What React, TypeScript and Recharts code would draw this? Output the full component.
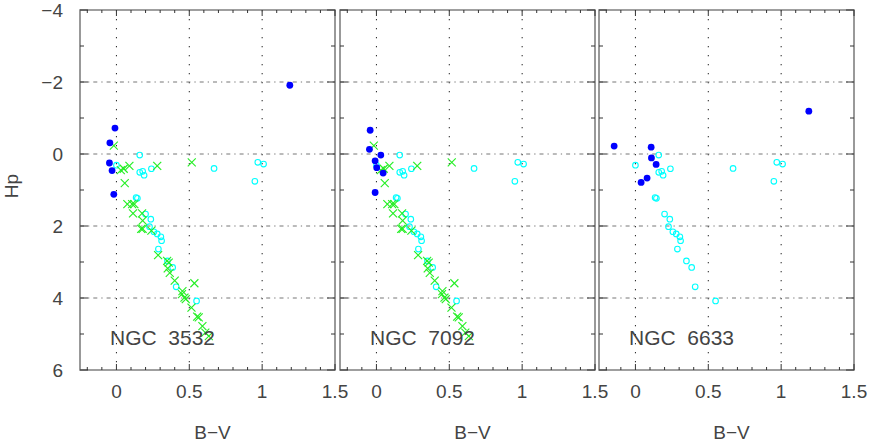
import { ScatterChart, Scatter, XAxis, YAxis, CartesianGrid, Label, ReferenceArea } from 'recharts';

// B-V, Hp pairs
const referenceOpen = [
  [0.16, 0.03], [0, 0.31], [0.16, 0.51], [0.18, 0.48], [0.19, 0.59], [0.24, 0.41],
  [0.67, 0.4], [0.97, 0.23], [1.01, 0.28], [0.95, 0.76], [0.135, 1.21], [0.144, 1.23],
  [0.2, 1.67], [0.236, 1.81], [0.227, 2.02], [0.257, 2.16], [0.28, 2.22], [0.305, 2.3],
  [0.31, 2.41], [0.288, 2.64], [0.35, 2.97], [0.386, 3.15], [0.41, 3.69], [0.55, 4.08],
];

const referenceCross = [
  [-0.018, -0.23], [0.03, 0.45], [0.05, 0.41], [0.089, 0.33], [0.28, 0.33], [0.517, 0.23],
  [0.057, 0.81], [0.075, 1.39], [0.108, 1.39], [0.123, 1.39], [0.114, 1.65], [0.176, 1.65],
  [0.18, 1.85], [0.17, 2.08], [0.18, 2.08], [0.24, 2.13], [0.286, 2.81], [0.348, 2.97],
  [0.359, 3.02], [0.352, 3.18], [0.366, 3.3], [0.4, 3.52], [0.535, 3.59], [0.453, 3.81],
  [0.45, 3.89], [0.467, 3.99], [0.476, 4.03], [0.515, 4.27], [0.554, 4.52], [0.565, 4.54],
  [0.59, 4.78], [0.61, 4.96], [0.634, 5.06],
];

const ngc3532 = [[1.19, -1.91], [-0.01, -0.72], [-0.045, -0.31], [-0.048, 0.25], [-0.03, 0.46], [-0.018, 1.12]];
const ngc7092 = [[-0.043, -0.66], [-0.048, -0.13], [0.03, 0.03], [-0.009, 0.19], [0.002, 0.38], [0.046, 0.53], [-0.009, 1.07]];
const ngc6633 = [[1.19, -1.19], [-0.146, -0.22], [0.108, -0.19], [0.11, 0.11], [0.142, 0.29], [0.08, 0.67], [0.039, 0.79]];

const xMajor = [0, 0.5, 1, 1.5];
const xMinor = [-0.2, -0.1, 0, 0.1, 0.2, 0.3, 0.4, 0.5, 0.6, 0.7, 0.8, 0.9, 1, 1.1, 1.2, 1.3, 1.4, 1.5];
const yMajor = [-4, -2, 0, 2, 4, 6];
const yMinor = [-4, -3, -2, -1, 0, 1, 2, 3, 4, 5, 6];

const toPts = (a: number[][]) => a.map(([x, y]) => ({ x, y }));

const FONT = 'Liberation Sans, Arial, sans-serif';
const textStyle = { fill: '#444', fontSize: 19, fontFamily: FONT };
const minus = (v: number) => String(v).replace('-', '\u2212');

const PLOT_W = 255;
const TOP = 10;
const BOTTOM = 370;
const LEFT = 80;
const RIGHT = LEFT + PLOT_W;

const Dot = (p: any) => <circle cx={p.cx} cy={p.cy} r={3.4} fill="#0000ff" />;
const Ring = (p: any) => <circle cx={p.cx} cy={p.cy} r={2.8} fill="none" stroke="#00ffff" strokeWidth={1.1} />;
const Cross = (p: any) => (
  <g stroke="#22ee22" strokeWidth={1.1}>
    <line x1={p.cx - 4} y1={p.cy - 4} x2={p.cx + 4} y2={p.cy + 4} />
    <line x1={p.cx - 4} y1={p.cy + 4} x2={p.cx + 4} y2={p.cy - 4} />
  </g>
);

// inward tick marks on bottom and top, label on major ones
const XTick = (props: any) => {
  const v = props.payload.value;
  const major = xMajor.some((m) => Math.abs(m - v) < 1e-6);
  const len = major ? 6 : 3;
  return (
    <g>
      <line x1={props.x} x2={props.x} y1={BOTTOM} y2={BOTTOM - len} stroke="#333" />
      <line x1={props.x} x2={props.x} y1={TOP} y2={TOP + len} stroke="#333" />
      {major && (
        <text x={props.x} y={398} textAnchor="middle" {...textStyle}>{v}</text>
      )}
    </g>
  );
};

const makeYTick = (withLabel: boolean) => (props: any) => {
  const v = props.payload.value;
  const major = yMajor.includes(v);
  const len = major ? 8 : 4;
  return (
    <g>
      <line x1={LEFT} x2={LEFT + len} y1={props.y} y2={props.y} stroke="#333" />
      <line x1={RIGHT} x2={RIGHT - len} y1={props.y} y2={props.y} stroke="#333" />
      {withLabel && major && (
        <text x={63} y={props.y + 7} textAnchor="end" {...textStyle}>{minus(v)}</text>
      )}
    </g>
  );
};

const panels = [
  { name: 'NGC\u00a0\u00a03532', left: 80, blue: ngc3532, cross: true, yLabels: true },
  { name: 'NGC\u00a0\u00a07092', left: 340, blue: ngc7092, cross: true, yLabels: false },
  { name: 'NGC\u00a0\u00a06633', left: 599, blue: ngc6633, cross: false, yLabels: false },
];

function Panel({ p }: { p: (typeof panels)[number] }) {
  const xd: [number, number] = [-0.25, 1.5];
  const yd: [number, number] = [-4, 6];
  return (
    <div style={{ position: 'absolute', left: p.left - 80, top: 0 }}>
      <ScatterChart width={LEFT + PLOT_W + 30} height={442} margin={{ top: TOP, right: 30, bottom: 0, left: 0 }}>
        <CartesianGrid xAxisId="x" yAxisId="y" horizontal={false} verticalValues={[0, 0.5, 1]}
          stroke="#222" strokeDasharray="1.3 7.7" />
        <CartesianGrid xAxisId="x" yAxisId="y" vertical={false} horizontalValues={[-2, 0, 2, 4]}
          stroke="#777" strokeDasharray="4 4 1.3 4" />
        <XAxis xAxisId="x" dataKey="x" type="number" domain={xd} allowDataOverflow ticks={xMinor} interval={0}
          height={72} tickSize={0} tickLine={false} axisLine={false} tick={XTick}>
          <Label value="B−V" position="insideBottom" offset={3} style={textStyle} dx={5} />
        </XAxis>
        <YAxis yAxisId="y" dataKey="y" type="number" domain={yd} reversed allowDataOverflow ticks={yMinor} interval={0}
          width={LEFT} tickSize={0} tickLine={false} axisLine={false} tick={makeYTick(p.yLabels)} />
        <ReferenceArea xAxisId="x" yAxisId="y" x1={xd[0]} x2={xd[1]} y1={yd[0]} y2={yd[1]}
          fill="none" stroke="#808080" strokeWidth={1.6} ifOverflow="visible" />
        <Scatter xAxisId="x" yAxisId="y" data={toPts(referenceOpen)} shape={Ring} isAnimationActive={false} />
        {p.cross && (
          <Scatter xAxisId="x" yAxisId="y" data={toPts(referenceCross)} shape={Cross} isAnimationActive={false} />
        )}
        <Scatter xAxisId="x" yAxisId="y" data={toPts(p.blue)} shape={Dot} isAnimationActive={false} />
      </ScatterChart>
    </div>
  );
}

export default function App() {
  return (
    <div style={{ position: 'absolute', left: 0, top: 0, width: 872, height: 442, background: '#fff' }}>
      {panels.map((p) => (
        <Panel key={p.name} p={p} />
      ))}
      <svg width={872} height={442} style={{ position: 'absolute', left: 0, top: 0, pointerEvents: 'none' }}>
        <text x={18} y={186} transform="rotate(-90 18 186)" textAnchor="middle" {...textStyle}>Hp</text>
        {panels.map((p) => (
          <text key={p.name} x={p.left + 30} y={345} {...textStyle} fontSize={21}>{p.name}</text>
        ))}
      </svg>
    </div>
  );
}
